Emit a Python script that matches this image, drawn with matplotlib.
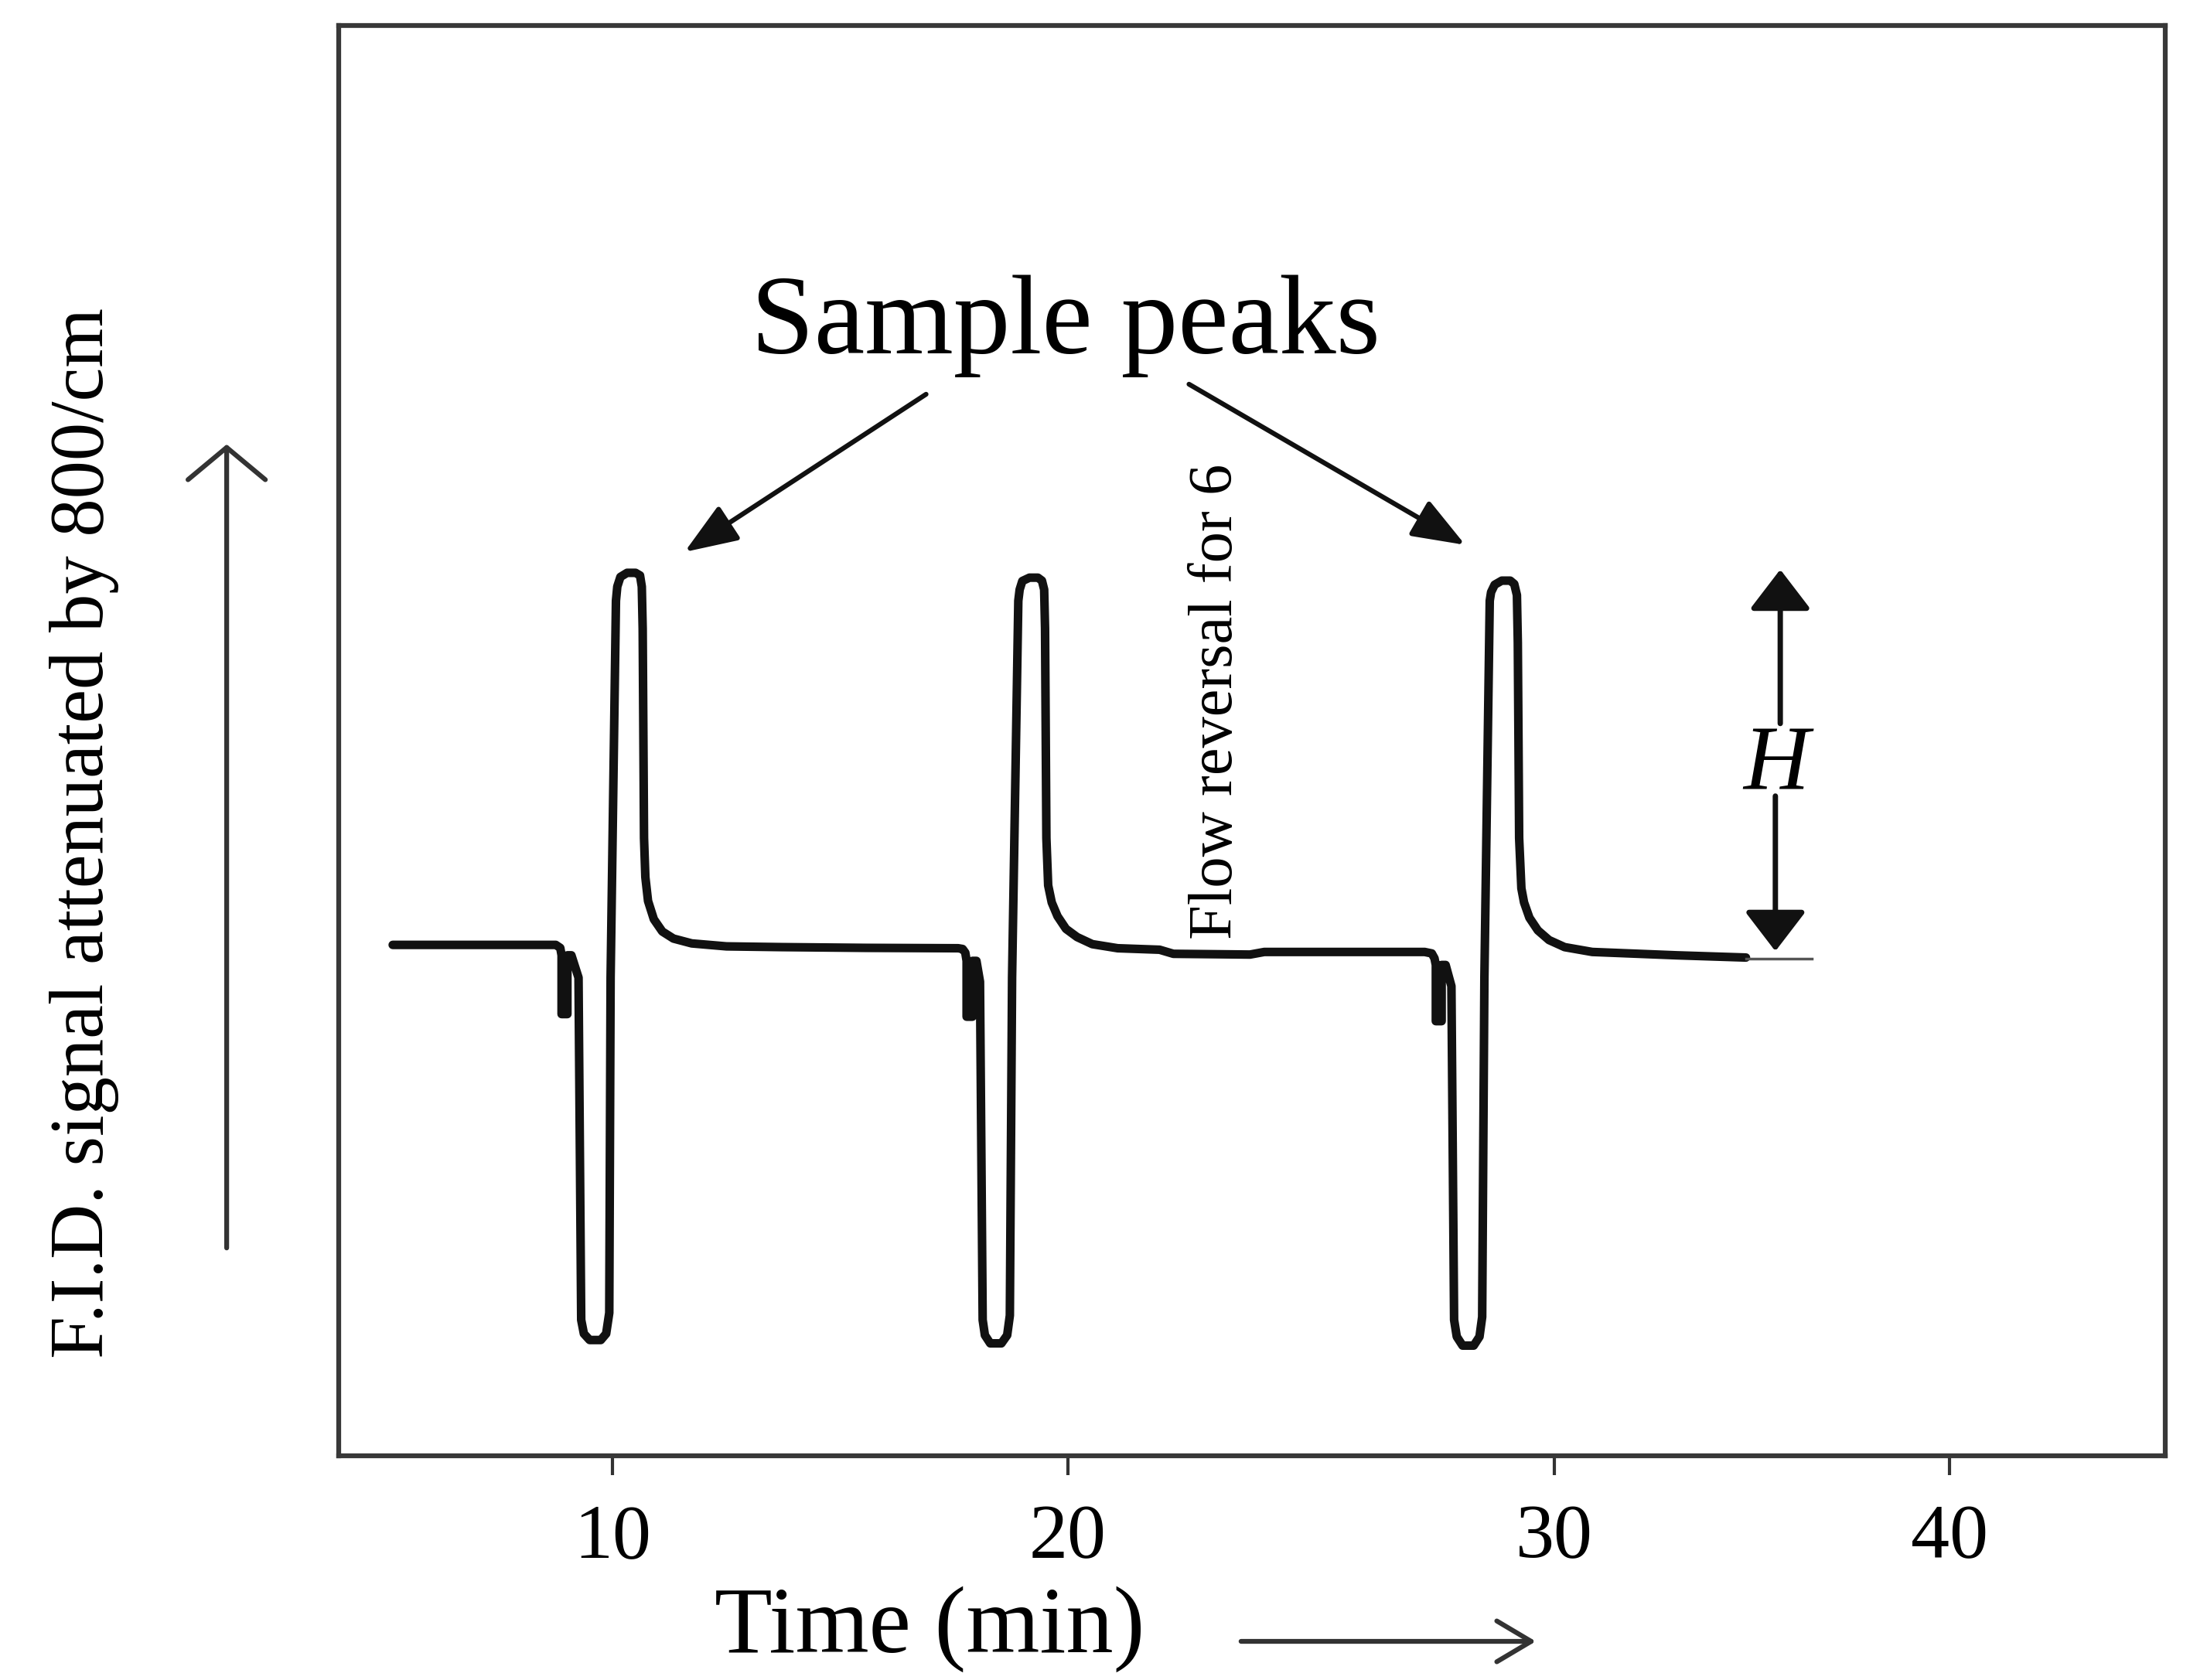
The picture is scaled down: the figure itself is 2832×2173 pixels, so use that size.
import numpy as np
import matplotlib.pyplot as plt
from matplotlib.patches import FancyArrowPatch

plt.rcParams['font.family'] = ['Liberation Serif', 'DejaVu Serif']

# FID trace: time in min, signal in units of the peak height H
# run 1 (first flow reversal)
t1 = [5.06, 8.72, 8.82, 8.85, 8.85, 8.98, 8.98, 9.07, 9.23, 9.29, 9.35, 9.48,
      9.73, 9.85, 9.92, 9.95, 10.07, 10.10, 10.17, 10.32, 10.51, 10.61, 10.65,
      10.67, 10.70, 10.73, 10.79, 10.92, 11.11, 11.36, 11.77, 12.55, 13.80,
      15.68, 17.75]
s1 = [0.0, 0.0, -0.008, -0.028, -0.186, -0.186, -0.028, -0.028, -0.088, -1.008,
      -1.045, -1.062, -1.062, -1.045, -0.989, -0.088, 0.925, 0.963, 0.989, 1.0,
      1.0, 0.993, 0.963, 0.850, 0.287, 0.182, 0.118, 0.069, 0.036, 0.017, 0.004,
      -0.004, -0.006, -0.008, -0.009]

# run 2
t2 = [17.85, 17.91, 17.94, 17.94, 18.07, 18.07, 18.16, 18.24, 18.30, 18.35,
      18.47, 18.72, 18.85, 18.91, 18.96, 19.10, 19.13, 19.19, 19.35, 19.54,
      19.63, 19.68, 19.70, 19.73, 19.77, 19.85, 19.98, 20.17, 20.42, 20.76,
      21.33, 22.27, 22.58, 24.30, 24.62, 28.22]
s2 = [-0.011, -0.021, -0.043, -0.193, -0.193, -0.043, -0.043, -0.099, -1.008,
      -1.049, -1.071, -1.071, -1.049, -0.996, -0.088, 0.925, 0.955, 0.978, 0.987,
      0.987, 0.979, 0.955, 0.850, 0.287, 0.160, 0.114, 0.077, 0.043, 0.021,
      0.002, -0.009, -0.013, -0.024, -0.026, -0.019, -0.019]

# run 3
t3 = [28.38, 28.44, 28.47, 28.47, 28.60, 28.60, 28.69, 28.82, 28.88, 28.94,
      29.07, 29.32, 29.45, 29.51, 29.56, 29.68, 29.71, 29.79, 29.95, 30.14,
      30.23, 30.29, 30.31, 30.34, 30.39, 30.45, 30.57, 30.76, 31.01, 31.36,
      31.98, 33.87, 35.43]
s3 = [-0.023, -0.036, -0.054, -0.205, -0.205, -0.054, -0.054, -0.111, -1.008,
      -1.053, -1.077, -1.077, -1.053, -1.000, -0.088, 0.925, 0.948, 0.968, 0.979,
      0.979, 0.970, 0.940, 0.812, 0.287, 0.152, 0.114, 0.073, 0.039, 0.013,
      -0.006, -0.019, -0.028, -0.034]

# thin baseline reference after the last run
ref_t = [35.43, 36.91]
ref_s = [-0.037, -0.037]

# H marker (peak height)
h_x_up, h_x_down = 36.20, 36.09
h_top, h_mid_top, h_mid_bottom, h_bottom = 1.009, 0.595, 0.400, -0.017

# ticks are unevenly spaced in the original drawing
tick_pos = [10, 20.21, 31.13, 40]
tick_labels = ['10', '20', '30', '40']

t = np.concatenate([t1, t2, t3])
s = np.concatenate([s1, s2, s3])

fig = plt.figure(figsize=(28.32, 21.73), dpi=100)
ax = fig.add_axes([0.1545, 0.1335, 0.8342, 0.8513])

ax.plot(t, s, color='#111111', lw=8, solid_joinstyle='round', solid_capstyle='round')
ax.plot(ref_t, ref_s, color='#555555', lw=2.5)

ax.set_xlim(3.84, 44.84)
ax.set_ylim(-1.373, 2.471)
ax.set_xticks(tick_pos)
ax.set_xticklabels(tick_labels)
ax.set_yticks([])
ax.tick_params(axis='x', length=18, width=3, pad=27, labelsize=72, color='#333333')
for sp in ax.spines.values():
    sp.set_linewidth(4.5)
    sp.set_color('#383838')

# "Sample peaks" label with arrows
ax.text(20.17, 1.589, 'Sample peaks', fontsize=106, ha='center', va='baseline')
peak_arrow = dict(arrowstyle='-|>,head_length=0.42,head_width=0.16', mutation_scale=100,
                  lw=4.5, color='#111111', shrinkA=0, shrinkB=0)
ax.annotate('', xy=(11.61, 1.056), xytext=(17.03, 1.480), arrowprops=peak_arrow)
ax.annotate('', xy=(29.13, 1.075), xytext=(22.93, 1.507), arrowprops=peak_arrow)

# flow reversal note
ax.text(23.90, 0.655, 'Flow reversal for 6', fontsize=58, rotation=90,
        rotation_mode='anchor', ha='center', va='baseline')

# H double arrow
h_arrow = dict(arrowstyle='-|>,head_length=0.32,head_width=0.245', mutation_scale=100,
               lw=5, color='#111111', shrinkA=0, shrinkB=0)
ax.annotate('', xy=(h_x_up, h_top), xytext=(h_x_up, h_mid_top), arrowprops=h_arrow)
ax.annotate('', xy=(h_x_down, h_bottom), xytext=(h_x_down, h_mid_bottom), arrowprops=h_arrow)
ax.text(36.11, 0.419, 'H', fontsize=85, style='italic', ha='center', va='baseline')

# axis labels with their arrows
fig.text(0.047, 0.504, 'F.I.D. signal attenuated by 800/cm', fontsize=71, rotation=90,
         rotation_mode='anchor', ha='center', va='baseline')
fig.add_artist(FancyArrowPatch((0.1035, 0.2559), (0.1035, 0.7368), transform=fig.transFigure,
                               arrowstyle='->,head_length=0.30,head_width=0.36',
                               mutation_scale=100, lw=4.5, color='#333333'))
fig.text(0.4245, 0.0166, 'Time (min)', fontsize=88, ha='center', va='baseline')
fig.add_artist(FancyArrowPatch((0.5657, 0.0230), (0.7023, 0.0230), transform=fig.transFigure,
                               arrowstyle='->,head_length=0.32,head_width=0.19',
                               mutation_scale=100, lw=4.5, color='#333333'))

fig.savefig('out.png', dpi=100, facecolor='white')
